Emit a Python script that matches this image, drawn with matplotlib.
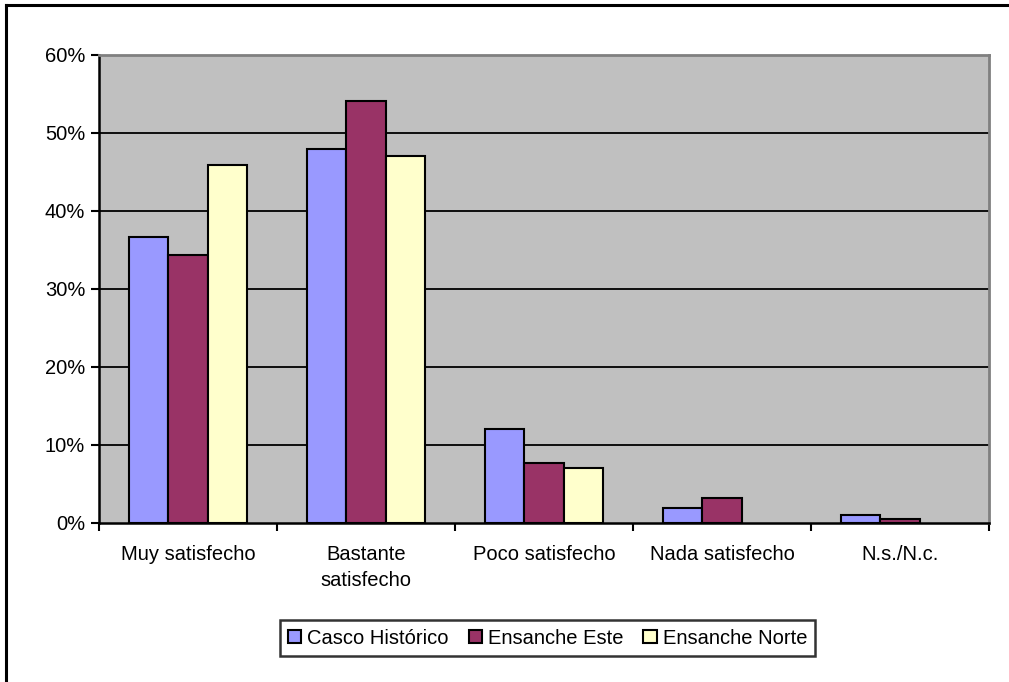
import matplotlib
import matplotlib.pyplot as plt
import numpy as np
from matplotlib.patches import Patch
from matplotlib.lines import Line2D
from matplotlib.ticker import FuncFormatter

matplotlib.use('Agg')

# data (percent)
categories = ['Muy satisfecho', 'Bastante\nsatisfecho', 'Poco satisfecho', 'Nada satisfecho', 'N.s./N.c.']
series_names = ['Casco Histórico', 'Ensanche Este', 'Ensanche Norte']
casco = [36.7, 48.0, 12.1, 1.9, 1.0]
este = [34.4, 54.1, 7.7, 3.2, 0.5]
norte = [45.9, 47.0, 7.1, 0.0, 0.0]
y_ticks = [0, 10, 20, 30, 40, 50, 60]

colors = ['#9999FF', '#993366', '#FFFFCC']

plt.rcParams['font.family'] = ['Liberation Sans', 'DejaVu Sans']

fig = plt.figure(figsize=(10.09, 6.82), dpi=100)
ax = fig.add_axes([99 / 1009, 1 - 523 / 682, (989 - 99) / 1009, (523 - 55) / 682])
ax.set_facecolor('#C0C0C0')

x = np.arange(len(categories))
w = 1 / 4.5
for i, vals in enumerate([casco, este, norte]):
    vals = np.array(vals)
    keep = vals > 0  # zero bars are not drawn at all in the original
    ax.bar(x[keep] + (i - 1) * w, vals[keep], width=w, color=colors[i], edgecolor='black',
           linewidth=1.5, zorder=3)

ax.set_xlim(-0.5, len(categories) - 0.5)
ax.set_ylim(0, 60)
ax.set_yticks(y_ticks)
ax.yaxis.set_major_formatter(FuncFormatter(lambda v, p: '%d%%' % v))
ax.set_xticks(x)
ax.set_xticklabels(categories, fontsize=14.5, linespacing=1.45)
ax.set_xticks(np.arange(len(categories) + 1) - 0.5, minor=True)
ax.tick_params(axis='x', which='major', length=0, pad=16)
ax.tick_params(axis='x', which='minor', length=6, width=1.5, direction='out')
ax.tick_params(axis='y', labelsize=14.5, length=6, width=1.5, direction='out', pad=4)

for yv in y_ticks[1:-1]:
    ax.axhline(yv, color='black', linewidth=1.3, zorder=1)

for side in ['left', 'bottom']:
    ax.spines[side].set_color('black')
    ax.spines[side].set_linewidth(1.8)
for side in ['top', 'right']:
    ax.spines[side].set_color('#808080')
    ax.spines[side].set_linewidth(2)

# legend below the plot
handles = [Patch(facecolor=c, edgecolor='black', linewidth=1.5) for c in colors]
leg = fig.legend(handles, series_names, loc='center', bbox_to_anchor=(547.5 / 1009, 1 - 638 / 682),
                 ncol=3, fontsize=14.5, frameon=True, fancybox=False, handlelength=0.65,
                 handleheight=0.65, handletextpad=0.3, columnspacing=1.0, borderpad=0.4,
                 borderaxespad=0)
leg.get_frame().set_edgecolor('black')
leg.get_frame().set_linewidth(1.8)

# outer chart border (left and top visible)
fig.add_artist(Line2D([6 / 1009, 6 / 1009], [0, 1 - 5 / 682], color='black', linewidth=2.2))
fig.add_artist(Line2D([6 / 1009, 1], [1 - 5 / 682, 1 - 5 / 682], color='black', linewidth=2.2))

plt.savefig('out.png', dpi=100)
plt.close()
